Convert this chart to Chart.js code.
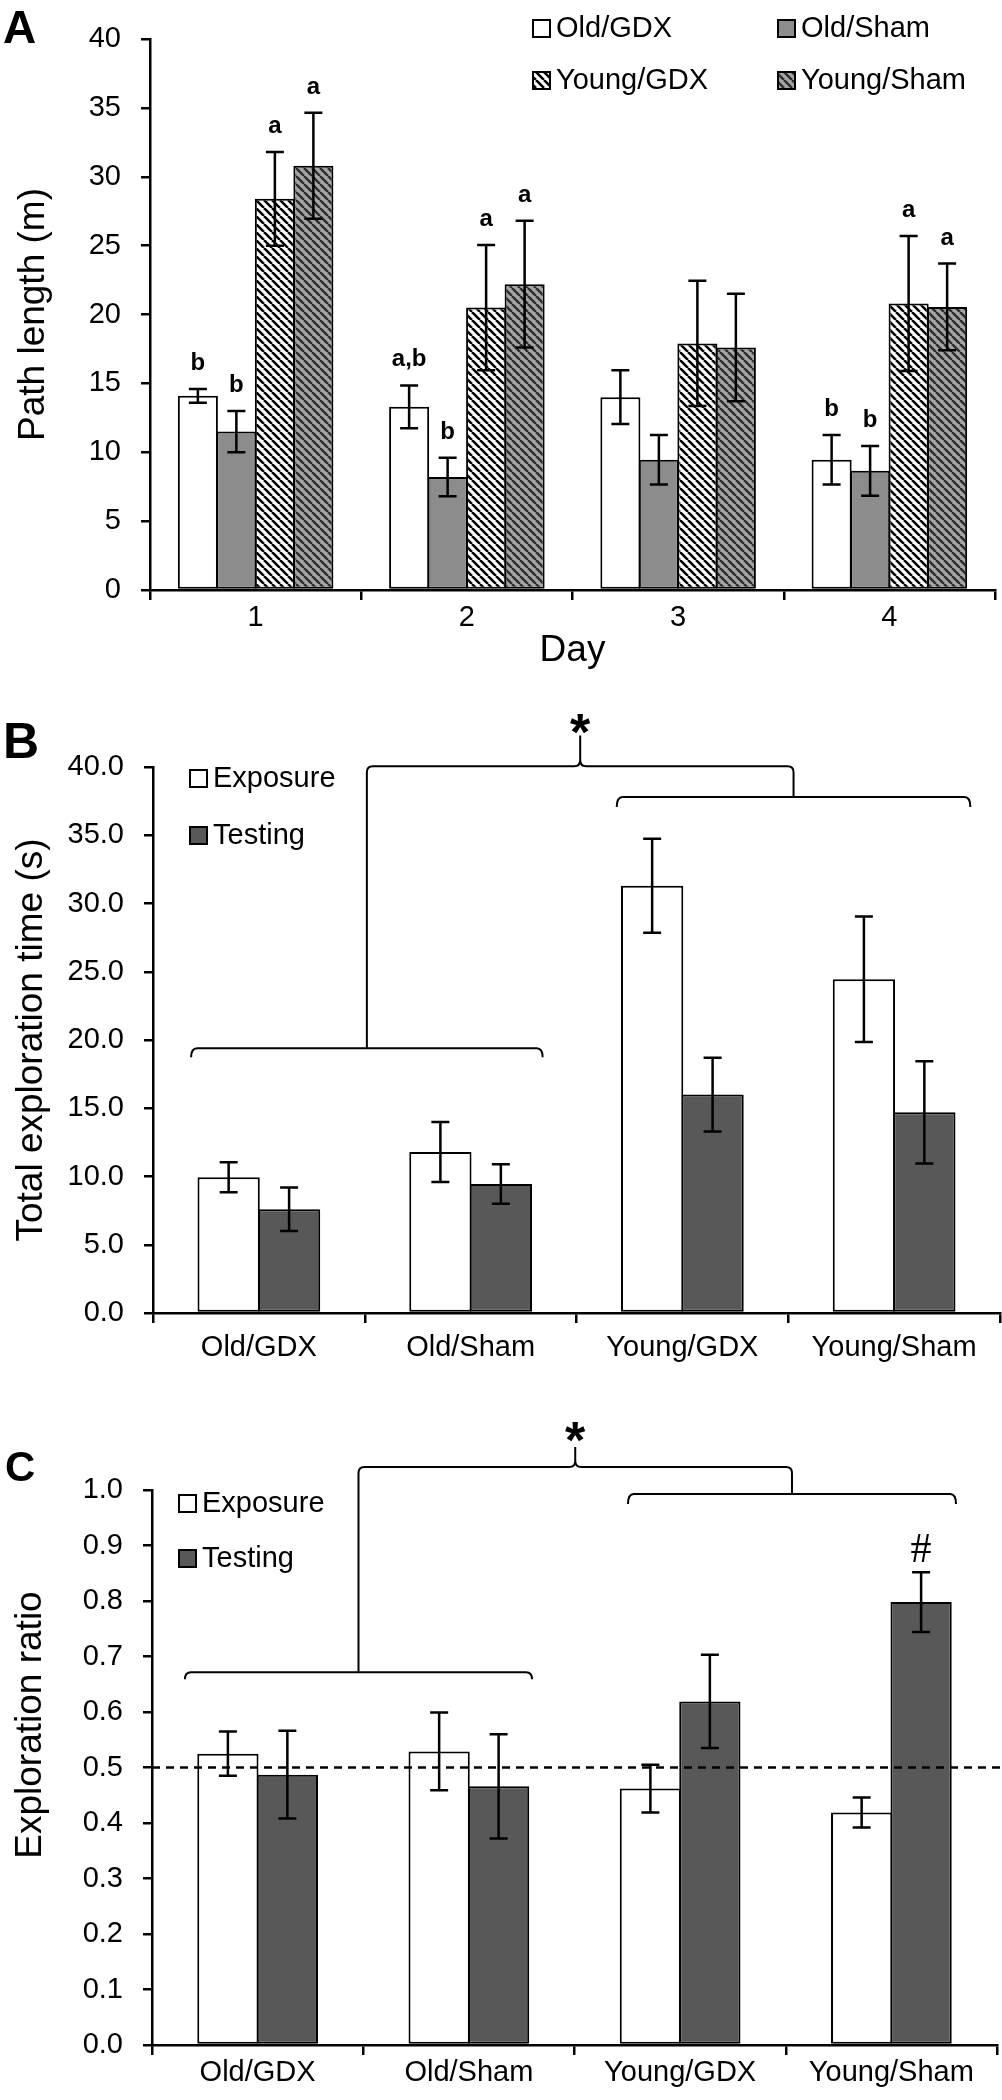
<!DOCTYPE html>
<html>
<head>
<meta charset="utf-8">
<script src="https://cdn.jsdelivr.net/npm/chart.js@4.4.1/dist/chart.umd.min.js"></script>
<style>
  body { margin: 0; background: #fff; }
  .panel { position: absolute; left: 0; width: 1002px; }
  #wrapA { top: 0; height: 700px; }
  #wrapB { top: 700px; height: 720px; }
  #wrapC { top: 1420px; height: 680px; }
</style>
</head>
<body>
<div class="panel" id="wrapA"><canvas id="chartA"></canvas></div>
<div class="panel" id="wrapB"><canvas id="chartB"></canvas></div>
<div class="panel" id="wrapC"><canvas id="chartC"></canvas></div>
<script>
// ---- data ----
const days = ['1', '2', '3', '4'];
const groups = ['Old/GDX', 'Old/Sham', 'Young/GDX', 'Young/Sham'];

// A: path length (m), mean +/- SEM per day
const oldGdxPath = [14.1, 13.3, 14.0, 9.45];
const oldGdxPathErr = [0.5, 1.55, 1.95, 1.8];
const oldShamPath = [11.5, 8.2, 9.45, 8.65];
const oldShamPathErr = [1.5, 1.4, 1.8, 1.8];
const youngGdxPath = [28.4, 20.5, 17.9, 20.8];
const youngGdxPathErr = [3.4, 4.55, 4.55, 4.9];
const youngShamPath = [30.8, 22.2, 17.6, 20.55];
const youngShamPathErr = [3.85, 4.6, 3.9, 3.15];
const oldGdxMarks = ['b', 'a,b', '', 'b'];
const oldShamMarks = ['b', 'b', '', 'b'];
const youngGdxMarks = ['a', 'a', '', 'a'];
const youngShamMarks = ['a', 'a', '', 'a'];

// B: total exploration time (s)
const exposureTime = [9.95, 11.8, 31.3, 24.45];
const exposureTimeErr = [1.1, 2.2, 3.45, 4.6];
const testingTime = [7.6, 9.45, 16.0, 14.7];
const testingTimeErr = [1.6, 1.45, 2.7, 3.75];

// C: exploration ratio
const exposureRatio = [0.525, 0.529, 0.462, 0.419];
const exposureRatioErr = [0.04, 0.07, 0.043, 0.027];
const testingRatio = [0.487, 0.466, 0.619, 0.798];
const testingRatioErr = [0.079, 0.094, 0.084, 0.054];
const testingRatioMarks = ['', '', '', '#'];
const chanceLevel = 0.5;

const FONT = '"Liberation Sans", Arial, Helvetica, sans-serif';
Chart.defaults.font.family = FONT;
Chart.defaults.color = '#000';
Chart.defaults.animation = false;

// diagonal hatch fill
function stripes(ctx, bg, fg, lw) {
  const s = 8;
  const tile = document.createElement('canvas');
  tile.width = s; tile.height = s;
  const t = tile.getContext('2d');
  t.fillStyle = bg;
  t.fillRect(0, 0, s, s);
  t.strokeStyle = fg;
  t.lineWidth = lw;
  t.beginPath();
  for (let k = -1; k <= 1; k++) { t.moveTo(k * s, 0); t.lineTo(k * s + s, s); }
  t.stroke();
  return ctx.createPattern(tile, 'repeat');
}

// error bars and the small letters above them
const errorBars = {
  id: 'errorBars',
  afterDatasetsDraw(chart) {
    const { ctx, scales: { y } } = chart;
    ctx.save();
    chart.data.datasets.forEach((ds, i) => {
      chart.getDatasetMeta(i).data.forEach((bar, j) => {
        const top = y.getPixelForValue(ds.data[j] + ds.errors[j]);
        const bot = y.getPixelForValue(ds.data[j] - ds.errors[j]);
        ctx.strokeStyle = '#000';
        ctx.lineWidth = 2.5;
        ctx.beginPath();
        ctx.moveTo(bar.x, top); ctx.lineTo(bar.x, bot);
        ctx.moveTo(bar.x - 9, top); ctx.lineTo(bar.x + 9, top);
        ctx.moveTo(bar.x - 9, bot); ctx.lineTo(bar.x + 9, bot);
        ctx.stroke();
        const mark = ds.marks && ds.marks[j];
        if (mark) {
          ctx.font = ds.markFont;
          ctx.fillStyle = '#000';
          ctx.textAlign = 'center';
          ctx.textBaseline = 'alphabetic';
          ctx.fillText(mark, bar.x, top - ds.markGap);
        }
      });
    });
    ctx.restore();
  }
};

// dashed chance line
const chanceLine = {
  id: 'chanceLine',
  afterDatasetsDraw(chart) {
    const { ctx, chartArea, scales: { y } } = chart;
    const yy = y.getPixelForValue(chanceLevel);
    ctx.save();
    ctx.strokeStyle = '#000';
    ctx.lineWidth = 2.5;
    ctx.setLineDash([8, 6]);
    ctx.beginPath();
    ctx.moveTo(chartArea.left, yy);
    ctx.lineTo(chart.width - 2, yy);
    ctx.stroke();
    ctx.restore();
  }
};

function boxLegend(spots) {
  return {
    id: 'boxLegend',
    afterDraw(chart) {
      const ctx = chart.ctx;
      ctx.save();
      ctx.font = '29px ' + FONT;
      ctx.textAlign = 'left';
      ctx.textBaseline = 'middle';
      chart.data.datasets.forEach((ds, i) => {
        const [x, y] = spots[i];
        ctx.fillStyle = ds.backgroundColor;
        ctx.fillRect(x, y - 8, 17, 17);
        ctx.strokeStyle = '#000';
        ctx.lineWidth = 2;
        ctx.strokeRect(x, y - 8, 17, 17);
        ctx.fillStyle = '#000';
        ctx.fillText(ds.label, x + 23, y + 1);
      });
      ctx.restore();
    }
  };
}

function drawBraces(chart, b) {
  const { ctx, scales: { x, y } } = chart;
  const px = v => x.getPixelForValue(v);
  const py = v => y.getPixelForValue(v);
  const r = 6;
  ctx.save();
  ctx.strokeStyle = '#000';
  ctx.lineWidth = 2;
  ctx.beginPath();
  const [L, R] = [b.left, b.right].map(g => {
    const x1 = px(g.from), x2 = px(g.to), yy = py(g.at);
    ctx.moveTo(x1, yy + g.drop);
    ctx.quadraticCurveTo(x1, yy, x1 + r, yy);
    ctx.lineTo(x2 - r, yy);
    ctx.quadraticCurveTo(x2, yy, x2, yy + g.drop);
    return { mid: (x1 + x2) / 2, yy };
  });
  const ty = py(b.top), xm = (L.mid + R.mid) / 2;
  ctx.moveTo(L.mid, L.yy);
  ctx.lineTo(L.mid, ty + r);
  ctx.quadraticCurveTo(L.mid, ty, L.mid + r, ty);
  ctx.lineTo(xm - r, ty);
  ctx.quadraticCurveTo(xm, ty, xm, ty - r);
  ctx.lineTo(xm, py(b.tip));
  ctx.moveTo(xm, ty - r);
  ctx.quadraticCurveTo(xm, ty, xm + r, ty);
  ctx.lineTo(R.mid - r, ty);
  ctx.quadraticCurveTo(R.mid, ty, R.mid, ty + r);
  ctx.lineTo(R.mid, R.yy);
  ctx.stroke();
  ctx.font = 'bold 52px ' + FONT;
  ctx.textAlign = 'center';
  ctx.textBaseline = 'alphabetic';
  ctx.fillStyle = '#000';
  ctx.fillText('*', xm, py(b.star) + 0.56 * 52);
  ctx.restore();
}

function notes(cfg) {
  return {
    id: 'notes',
    afterDraw(chart) {
      const ctx = chart.ctx;
      ctx.save();
      ctx.fillStyle = '#000';
      ctx.font = cfg.letterFont;
      ctx.textAlign = 'left';
      ctx.textBaseline = 'alphabetic';
      ctx.fillText(cfg.letter, cfg.letterAt[0], cfg.letterAt[1]);
      if (cfg.yTitle) {
        ctx.translate(cfg.yTitle.x, cfg.yTitle.y);
        ctx.rotate(-Math.PI / 2);
        ctx.font = '37px ' + FONT;
        ctx.textAlign = 'center';
        ctx.textBaseline = 'middle';
        ctx.fillText(cfg.yTitle.text, 0, 0);
      }
      ctx.restore();
      if (cfg.braces) drawBraces(chart, cfg.braces);
    }
  };
}

function axes(o) {
  const line = { display: true, drawOnChartArea: false, drawTicks: true, color: '#000', lineWidth: 2.5 };
  return {
    x: {
      afterFit(s) { s.height = o.xHeight; },
      grid: Object.assign({ offset: true, tickLength: 10 }, line),
      border: { display: true, color: '#000', width: 2.5 },
      ticks: { font: { size: 29 }, padding: o.xPad, autoSkip: false, maxRotation: 0 },
      title: o.xTitle ? { display: true, text: o.xTitle, font: { size: 37 }, padding: { top: 0, bottom: 27 } } : { display: false }
    },
    y: {
      min: 0, max: o.max,
      afterFit(s) { s.width = o.yWidth; },
      grid: Object.assign({ tickLength: 9 }, line),
      border: { display: true, color: '#000', width: 2.5 },
      ticks: { stepSize: o.step, font: { size: 29 }, padding: 20, callback: o.fmt },
      title: o.yTitle ? { display: true, text: o.yTitle, font: { size: 37 }, padding: { top: o.yTitlePad, bottom: 0 } } : { display: false }
    }
  };
}

const barStyle = { borderColor: '#000', borderWidth: 2, borderSkipped: false };
const markFont = 'bold 24px ' + FONT;

// ---- panel A ----
const ctxA = document.getElementById('chartA').getContext('2d');
new Chart(ctxA, {
  type: 'bar',
  data: {
    labels: days,
    datasets: [
      Object.assign({ label: groups[0], data: oldGdxPath, errors: oldGdxPathErr, marks: oldGdxMarks, backgroundColor: '#ffffff' }, barStyle),
      Object.assign({ label: groups[1], data: oldShamPath, errors: oldShamPathErr, marks: oldShamMarks, backgroundColor: '#8c8c8c' }, barStyle),
      Object.assign({ label: groups[2], data: youngGdxPath, errors: youngGdxPathErr, marks: youngGdxMarks, backgroundColor: stripes(ctxA, '#ffffff', '#000000', 2.5) }, barStyle),
      Object.assign({ label: groups[3], data: youngShamPath, errors: youngShamPathErr, marks: youngShamMarks, backgroundColor: stripes(ctxA, '#a6a6a6', '#2e2e2e', 2.5) }, barStyle)
    ].map(d => Object.assign(d, { markFont: markFont, markGap: 19, categoryPercentage: 0.729, barPercentage: 1.04 }))
  },
  options: {
    responsive: true,
    maintainAspectRatio: false,
    events: [],
    layout: { padding: { top: 39, right: 7, left: 0, bottom: 0 } },
    plugins: { legend: { display: false }, tooltip: { enabled: false } },
    scales: axes({ max: 40, step: 5, yWidth: 150, xHeight: 110, xPad: 1, xTitle: 'Day', yTitle: 'Path length (m)', yTitlePad: 12 })
  },
  plugins: [errorBars, boxLegend([[533, 28], [778, 28], [533, 80], [778, 80]]),
    notes({ letter: 'A', letterFont: 'bold 46px ' + FONT, letterAt: [3, 43] })]
});

// ---- panel B ----
const ctxB = document.getElementById('chartB').getContext('2d');
new Chart(ctxB, {
  type: 'bar',
  data: {
    labels: groups,
    datasets: [
      Object.assign({ label: 'Exposure', data: exposureTime, errors: exposureTimeErr, backgroundColor: '#ffffff' }, barStyle),
      Object.assign({ label: 'Testing', data: testingTime, errors: testingTimeErr, backgroundColor: '#585858' }, barStyle)
    ].map(d => Object.assign(d, { categoryPercentage: 0.571, barPercentage: 1.03 }))
  },
  options: {
    responsive: true,
    maintainAspectRatio: false,
    events: [],
    layout: { padding: { top: 67, right: 2, left: 0, bottom: 0 } },
    plugins: { legend: { display: false }, tooltip: { enabled: false } },
    scales: axes({ max: 40, step: 5, yWidth: 153, xHeight: 107, xPad: 8, fmt: v => Number(v).toFixed(1),
      yTitle: 'Total exploration time (s)', yTitlePad: 10 })
  },
  plugins: [errorBars, boxLegend([[190, 78], [190, 135]]),
    notes({ letter: 'B', letterFont: 'bold 50px ' + FONT, letterAt: [3, 58],
      braces: { left: { from: -0.32, to: 1.34, at: 19.4, drop: 9 }, right: { from: 1.69, to: 3.36, at: 37.8, drop: 10 },
        top: 40.05, tip: 42.3, star: 43.4 } })]
});

// ---- panel C ----
const ctxC = document.getElementById('chartC').getContext('2d');
new Chart(ctxC, {
  type: 'bar',
  data: {
    labels: groups,
    datasets: [
      Object.assign({ label: 'Exposure', data: exposureRatio, errors: exposureRatioErr, backgroundColor: '#ffffff' }, barStyle),
      Object.assign({ label: 'Testing', data: testingRatio, errors: testingRatioErr, marks: testingRatioMarks,
        markFont: '42px "Liberation Serif", "Times New Roman", serif', markGap: 10, backgroundColor: '#585858' }, barStyle)
    ].map(d => Object.assign(d, { categoryPercentage: 0.563, barPercentage: 1.03 }))
  },
  options: {
    responsive: true,
    maintainAspectRatio: false,
    events: [],
    layout: { padding: { top: 70, right: 5, left: 0, bottom: 0 } },
    plugins: { legend: { display: false }, tooltip: { enabled: false } },
    scales: axes({ max: 1, step: 0.1, yWidth: 152, xHeight: 55, xPad: 1, fmt: v => Number(v).toFixed(1) })
  },
  plugins: [chanceLine, errorBars, boxLegend([[179, 83], [179, 138]]),
    notes({ letter: 'C', letterFont: 'bold 42px ' + FONT, letterAt: [5, 61],
      yTitle: { text: 'Exploration ratio', x: 31, y: 305 },
      braces: { left: { from: -0.344, to: 1.299, at: 0.6715, drop: 7 }, right: { from: 1.753, to: 3.306, at: 0.993, drop: 10 },
        top: 1.0415, tip: 1.0776, star: 1.11 } })]
});
</script>
</body>
</html>
